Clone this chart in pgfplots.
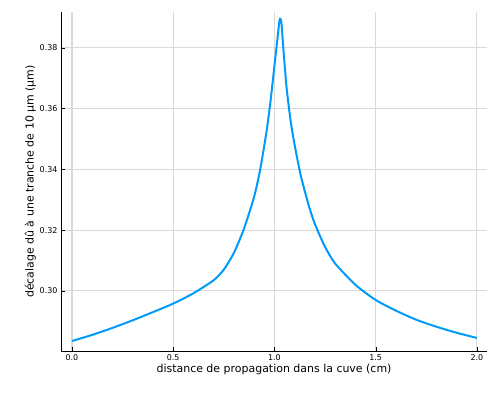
\documentclass[border=0pt]{standalone}
\usepackage{pgfplots}
\pgfplotsset{compat=1.18}
\usepackage{fontspec}
\setmainfont{DejaVu Sans}
\definecolor{jl}{HTML}{009AFA}
\begin{document}
\begin{tikzpicture}
\path[use as bounding box] (-61bp,-49bp) rectangle (439bp,351bp);
\begin{axis}[
 at={(0,0)}, anchor=south west,
 scale only axis, width=426bp, height=339bp,
 xmin=-0.054, xmax=2.05, ymin=0.2802, ymax=0.3918,
 xtick={0,0.5,1,1.5,2}, xticklabels={0.0,0.5,1.0,1.5,2.0},
 ytick={0.30,0.32,0.34,0.36,0.38},
 yticklabel style={/pgf/number format/fixed,/pgf/number format/precision=2,/pgf/number format/fixed zerofill},
 /pgf/number format/assume math mode=true,
 ticklabel style={font=\fontsize{8}{9}\selectfont},
 label style={font=\fontsize{11}{13}\selectfont},
 xlabel={distance de propagation dans la cuve (cm)},
 ylabel={décalage dû à une tranche de 10 µm (µm)},
 grid=major, grid style={black!15, line width=1.2pt},
 axis x line*=bottom, axis y line*=left,
 tick style={black}, tick align=inside,
 xlabel style={yshift=3pt}, ylabel style={yshift=-3pt},
]
\addplot[color=jl, line width=2pt, smooth, tension=0.4] coordinates {
(0,0.2835)(0.1,0.2855)(0.2,0.2878)(0.3,0.2903)(0.4,0.2930)(0.5,0.2958)
(0.6,0.2992)(0.7,0.3035)(0.75,0.307)(0.8,0.3125)(0.85,0.3205)(0.9,0.331)
(0.93,0.340)(0.96,0.352)(0.98,0.362)(1.0,0.374)(1.015,0.383)(1.025,0.389)
(1.03,0.3895)(1.035,0.388)(1.045,0.379)(1.06,0.367)(1.08,0.356)(1.1,0.348)
(1.13,0.338)(1.17,0.328)(1.2,0.322)(1.25,0.3145)(1.3,0.309)(1.4,0.302)
(1.5,0.297)(1.6,0.2935)(1.7,0.2905)(1.8,0.2882)(1.9,0.2862)(2.0,0.2845)
};
\end{axis}
\end{tikzpicture}
\end{document}
